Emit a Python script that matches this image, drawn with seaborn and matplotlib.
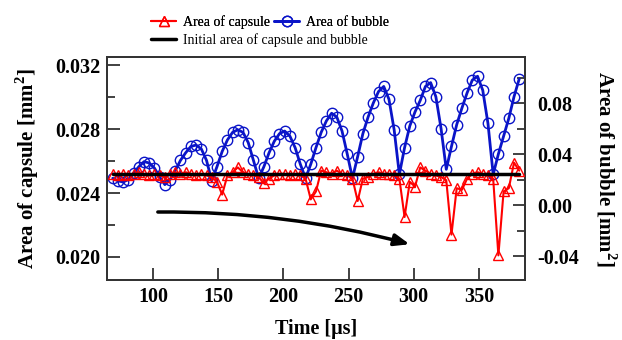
import matplotlib
matplotlib.use("Agg")
import matplotlib.pyplot as plt
import seaborn as sns
import pandas as pd

# ---- data ----
time_us = [69, 73, 77, 81, 85, 89, 93, 97, 101, 105, 109, 113, 117, 121, 125, 129,
           133, 137, 141, 145, 149, 153, 157, 161, 165, 169, 173, 177, 181, 185, 189,
           193, 197, 201, 205, 209, 213, 217, 221, 225, 229, 233, 237, 241, 245, 249,
           253, 257, 261, 265, 269, 273, 277, 281, 285, 289, 293, 297, 301, 305, 309,
           313, 317, 321, 325, 329, 333, 337, 341, 345, 349, 353, 357, 361, 365, 369,
           373, 377, 381]

capsule_area = [0.0252, 0.0251, 0.0252, 0.0251, 0.0252, 0.0253, 0.0252, 0.0251, 0.0252,
                0.0251, 0.0250, 0.0252, 0.0253, 0.0252, 0.0253, 0.0252, 0.0251, 0.0252,
                0.0251, 0.0250, 0.0247, 0.0239, 0.0251, 0.0253, 0.0256, 0.0253, 0.0252,
                0.0251, 0.0250, 0.0246, 0.0249, 0.0251, 0.0252, 0.0252, 0.0251, 0.0252,
                0.0251, 0.0249, 0.0236, 0.0241, 0.0254, 0.0253, 0.0252, 0.0254, 0.0252,
                0.0251, 0.0249, 0.0235, 0.0249, 0.0250, 0.0252, 0.0253, 0.0252, 0.0252,
                0.0251, 0.0249, 0.0225, 0.0247, 0.0244, 0.0256, 0.0254, 0.0252, 0.0251,
                0.0250, 0.0248, 0.0214, 0.0243, 0.0242, 0.0249, 0.0252, 0.0253, 0.0252,
                0.0251, 0.0249, 0.0201, 0.0241, 0.0243, 0.0259, 0.0254]

bubble_area = [0.021, 0.019, 0.018, 0.020, 0.025, 0.030, 0.034, 0.033, 0.029, 0.022,
               0.016, 0.020, 0.027, 0.035, 0.041, 0.046, 0.047, 0.044, 0.035, 0.019,
               0.030, 0.042, 0.051, 0.057, 0.059, 0.057, 0.049, 0.035, 0.021, 0.030,
               0.041, 0.050, 0.056, 0.058, 0.054, 0.045, 0.032, 0.021, 0.032, 0.045,
               0.057, 0.066, 0.072, 0.069, 0.058, 0.040, 0.021, 0.038, 0.056, 0.069,
               0.080, 0.089, 0.093, 0.083, 0.059, 0.024, 0.045, 0.062, 0.073, 0.082,
               0.093, 0.096, 0.085, 0.060, 0.028, 0.046, 0.063, 0.076, 0.088, 0.098,
               0.101, 0.090, 0.064, 0.024, 0.040, 0.054, 0.068, 0.085, 0.099]

initial_time = [69, 381]
initial_area = [0.02519, 0.02519]

x_ticks = [100, 150, 200, 250, 300, 350]
cap_ticks = [0.020, 0.024, 0.028, 0.032]
bub_ticks = [-0.04, 0.00, 0.04, 0.08]

df = pd.DataFrame({"t": time_us, "capsule": capsule_area, "bubble": bubble_area})
df_init = pd.DataFrame({"t": initial_time, "a": initial_area})

sns.set_style("ticks")
plt.rcParams["font.family"] = ["Liberation Serif", "DejaVu Serif"]
plt.rcParams["mathtext.fontset"] = "custom"
plt.rcParams["mathtext.rm"] = "Liberation Serif:bold"
plt.rcParams["mathtext.bf"] = "Liberation Serif:bold"
plt.rcParams["text.color"] = "black"
plt.rcParams["axes.labelcolor"] = "black"
plt.rcParams["xtick.color"] = "#333333"
plt.rcParams["ytick.color"] = "#333333"
plt.rcParams["xtick.labelcolor"] = "black"
plt.rcParams["ytick.labelcolor"] = "black"

fig = plt.figure(figsize=(6.22, 3.40), dpi=100)
ax = fig.add_axes([0.172, 0.1765, 0.672, 0.6555])
ax2 = ax.twinx()

# bubble on right axis
sns.lineplot(data=df, x="t", y="bubble", ax=ax2, color="#0a14c8", lw=2.0,
             marker="o", ms=7.5, mfc="none", mec="#0a14c8", mew=1.0,
             label="Area of bubble", legend=False)
# capsule on left axis
sns.lineplot(data=df, x="t", y="capsule", ax=ax, color="red", lw=1.5,
             marker="^", ms=7, mfc="none", mec="red", mew=1.0,
             label="Area of capsule", legend=False, zorder=3)
sns.lineplot(data=df_init, x="t", y="a", ax=ax, color="black", lw=2.5,
             label="Initial area of capsule and bubble", legend=False, zorder=4)

# left axis (capsule + reference line) drawn above the bubble axis
ax.set_zorder(ax2.get_zorder() + 1)
ax.patch.set_visible(False)

ax.set_xlim(64.6, 385.4)
ax.set_ylim(0.01856, 0.0325)
ax2.set_ylim(-0.0588, 0.116)

ax.set_xticks(x_ticks)
ax.set_xticklabels([str(v) for v in x_ticks])
ax.set_yticks(cap_ticks)
ax.set_yticklabels([f"{v:.3f}" for v in cap_ticks])
ax.set_yticks([0.022, 0.026, 0.030], minor=True)
ax2.set_yticks(bub_ticks)
ax2.set_yticklabels([f"{v:.2f}" for v in bub_ticks])
ax2.set_yticks([-0.02, 0.02, 0.06, 0.10], minor=True)

for a in (ax, ax2):
    a.tick_params(axis="both", which="major", direction="in", length=9, width=1.3,
                  labelsize=14.5, pad=5)
    a.tick_params(axis="both", which="minor", direction="in", length=6, width=1.3)
    for s in a.spines.values():
        s.set_linewidth(1.3)
        s.set_color("#333333")
    for lbl in a.get_xticklabels() + a.get_yticklabels():
        lbl.set_fontweight("bold")
ax.tick_params(axis="y", which="both", right=False)
ax2.tick_params(axis="y", which="major", pad=9)

ax.set_xlabel("Time [\u03bcs]", fontsize=14.5, fontweight="bold", labelpad=9)
ax.set_ylabel(r"Area of capsule [mm$^{2}$]", fontsize=15, fontweight="bold", labelpad=10)
ax2.set_ylabel(r"Area of bubble [mm$^{2}$]", fontsize=15, fontweight="bold",
               rotation=270, labelpad=28)

# curved arrow
ax.annotate("", xy=(299, 0.02075), xytext=(101.5, 0.02281),
            arrowprops=dict(arrowstyle="-|>,head_length=0.9,head_width=0.35",
                            color="black", lw=2.5,
                            connectionstyle="arc3,rad=-0.07"))

h1, l1 = ax.get_legend_handles_labels()
h2, l2 = ax2.get_legend_handles_labels()
leg1 = fig.legend([h1[0], h2[0]], [l1[0], l2[0]], ncol=2, loc="center left",
                  bbox_to_anchor=(0.232, 1 - 22 / 340), frameon=False, fontsize=10,
                  handlelength=1.8, columnspacing=0.3, handletextpad=0.5, borderpad=0)
fig.add_artist(leg1)
fig.legend([h1[1]], [l1[1]], loc="center left",
           bbox_to_anchor=(0.232, 1 - 40 / 340), frameon=False, fontsize=10,
           handlelength=1.8, handletextpad=0.5, borderpad=0)

fig.savefig("out.png", dpi=100)
